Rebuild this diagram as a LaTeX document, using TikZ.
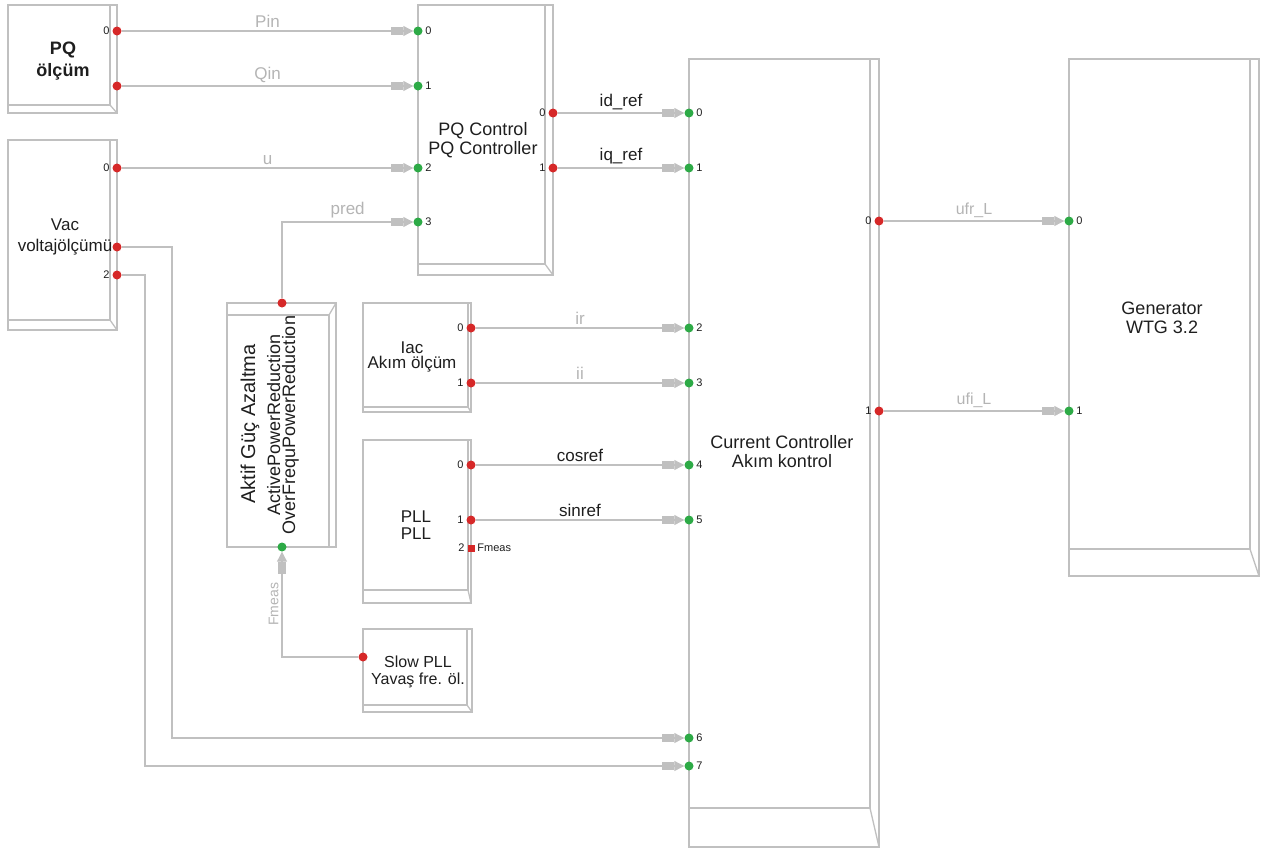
\documentclass[tikz,border=0pt]{standalone}
\usepackage{fontspec}
\setmainfont{Liberation Sans}
\usetikzlibrary{arrows.meta}

\definecolor{portred}{RGB}{214,40,40}
\definecolor{portgreen}{RGB}{45,170,70}
\definecolor{linegray}{RGB}{192,192,192}
\definecolor{labgray}{RGB}{180,180,180}
\definecolor{txt}{RGB}{30,30,30}

\tikzset{
  blockline/.style={draw=linegray, line width=1.3pt},
  feed/.style={draw=linegray, line width=1.1pt,
    -{Rectangle[length=12pt,width=8pt,sep=0pt]Triangle[length=10pt,width=10pt]}},
  outport/.style={circle, fill=portred, inner sep=0pt, minimum size=9pt},
  inport/.style={circle, fill=portgreen, inner sep=0pt, minimum size=9pt},
  plab/.style={font=\fontsize{11}{12}\selectfont, text=txt, inner sep=2.5pt},
  blabel/.style={font=\fontsize{18}{19}\selectfont, align=center, text=txt},
  wlab/.style={font=\fontsize{17}{18}\selectfont, text=labgray, above, inner sep=3pt},
  wlabk/.style={wlab, text=txt}
}

% block outline: x1 y1 x2 y2, right strip, bottom strip
\newcommand{\fblock}[6]{%
  \draw[blockline] (#1,#2) rectangle (#3,#4);
  \draw[blockline] ({#3-#5},#2) -- ({#3-#5},{#4-#6}) -- (#1,{#4-#6});
  \draw[blockline] ({#3-#5},{#4-#6}) -- (#3,#4);}

\begin{document}
\begin{tikzpicture}[x=1pt,y=-1pt]
  \useasboundingbox (0,0) rectangle (1261,854);

  % blocks
  \fblock{8}{5}{117}{113}{7}{8}
  \fblock{8}{140}{117}{330}{7}{10}
  \fblock{418}{5}{553}{275}{8}{11}
  \fblock{689}{59}{879}{847}{9}{39}
  \fblock{1069}{59}{1259}{576}{9}{27}
  \fblock{363}{303}{471}{412}{3}{5}
  \fblock{363}{440}{471}{603}{3}{13}
  \fblock{363}{629}{472}{712}{5}{7}
  \draw[blockline] (227,303) rectangle (336,547);
  \draw[blockline] (227,315) -- (329,315) -- (329,547);
  \draw[blockline] (329,315) -- (336,303);

  % block names
  \node[blabel,font=\bfseries\fontsize{18}{22}\selectfont] (pqmname) at (63,61) {PQ\\ölçüm};
  \node[blabel,font=\fontsize{17}{21}\selectfont] (vacname) at (65,237) {Vac\\voltajölçümü};
  \node[blabel] (pqcname) at (483,140) {PQ Control\\PQ Controller};
  \node[blabel] (ccname) at (782,452) {Current Controller\\Akım kontrol};
  \node[blabel] (genname) at (1162,318) {Generator\\WTG 3.2};
  \node[blabel,font=\fontsize{17}{15}\selectfont] (iacname) at (412,357) {Iac\\Akım ölçüm};
  \node[blabel,font=\fontsize{17}{17}\selectfont] (pllname) at (416,525) {PLL\\PLL};
  \node[blabel,font=\fontsize{16}{17}\selectfont] (spllname) at (418,672) {Slow PLL\\Yavaş fre. öl.};
  \node[blabel,font=\fontsize{20}{22}\selectfont,rotate=90] (aprname) at (250,424) {Aktif Güç Azaltma};
  \node[blabel,font=\fontsize{18}{15}\selectfont,rotate=90] (aprsub) at (283,425) {ActivePowerReduction\\OverFrequPowerReduction};

  % ports
  \node[outport,label={[plab]left:0}] (pqmo0) at (117,31) {};
  \node[outport] (pqmo1) at (117,86) {};
  \node[outport,label={[plab]left:0}] (vaco0) at (117,168) {};
  \node[outport] (vaco1) at (117,247) {};
  \node[outport,label={[plab]left:2}] (vaco2) at (117,275) {};
  \node[inport,label={[plab]right:0}] (pqci0) at (418,31) {};
  \node[inport,label={[plab]right:1}] (pqci1) at (418,86) {};
  \node[inport,label={[plab]right:2}] (pqci2) at (418,168) {};
  \node[inport,label={[plab]right:3}] (pqci3) at (418,222) {};
  \node[outport,label={[plab]left:0}] (pqco0) at (553,113) {};
  \node[outport,label={[plab]left:1}] (pqco1) at (553,168) {};
  \node[inport,label={[plab]right:0}] (cci0) at (689,113) {};
  \node[inport,label={[plab]right:1}] (cci1) at (689,168) {};
  \node[inport,label={[plab]right:2}] (cci2) at (689,328) {};
  \node[inport,label={[plab]right:3}] (cci3) at (689,383) {};
  \node[inport,label={[plab]right:4}] (cci4) at (689,465) {};
  \node[inport,label={[plab]right:5}] (cci5) at (689,520) {};
  \node[inport,label={[plab]right:6}] (cci6) at (689,738) {};
  \node[inport,label={[plab]right:7}] (cci7) at (689,766) {};
  \node[outport,label={[plab]left:0}] (cco0) at (879,221) {};
  \node[outport,label={[plab]left:1}] (cco1) at (879,411) {};
  \node[inport,label={[plab]right:0}] (geni0) at (1069,221) {};
  \node[inport,label={[plab]right:1}] (geni1) at (1069,411) {};
  \node[outport,label={[plab]left:0}] (iaco0) at (471,328) {};
  \node[outport,label={[plab]left:1}] (iaco1) at (471,383) {};
  \node[outport,label={[plab]left:0}] (pllo0) at (471,465) {};
  \node[outport,label={[plab]left:1}] (pllo1) at (471,520) {};
  \node[outport,rectangle,minimum size=7pt,label={[plab]left:2},
        label={[plab]right:Fmeas}] (pllo2) at (471,548) {};
  \node[outport] (apro) at (282,303) {};
  \node[inport] (apri) at (282,547) {};
  \node[outport] (spllo) at (363,657) {};

  % bends
  \coordinate (b6) at (172,738);
  \coordinate (b7) at (145,766);

  % wires
  \draw[feed] (pqmo0) -- node[wlab] (lpin) {Pin} (pqci0);
  \draw[feed] (pqmo1) -- node[wlab] (lqin) {Qin} (pqci1);
  \draw[feed] (vaco0) -- node[wlab] (lu) {u} (pqci2);
  \draw[feed] (apro) |- node[wlab,pos=0.75] (lpred) {pred} (pqci3);
  \draw[feed] (pqco0) -- node[wlabk] (lidref) {id\_ref} (cci0);
  \draw[feed] (pqco1) -- node[wlabk] (liqref) {iq\_ref} (cci1);
  \draw[feed] (iaco0) -- node[wlab] (lir) {ir} (cci2);
  \draw[feed] (iaco1) -- node[wlab] (lii) {ii} (cci3);
  \draw[feed] (pllo0) -- node[wlabk] (lcos) {cosref} (cci4);
  \draw[feed] (pllo1) -- node[wlabk] (lsin) {sinref} (cci5);
  \draw[feed] (cco0) -- node[wlab,font=\fontsize{16}{17}\selectfont] (lufr) {ufr\_L} (geni0);
  \draw[feed] (cco1) -- node[wlab,font=\fontsize{16}{17}\selectfont] (lufi) {ufi\_L} (geni1);
  \draw[feed] (spllo) -| node[wlab,sloped,pos=0.75,font=\fontsize{14}{15}\selectfont] (lfmeas) {Fmeas} (apri);
  \draw[feed] (vaco1) -| (b6) -- (cci6);
  \draw[feed] (vaco2) -| (b7) -- (cci7);
\end{tikzpicture}
\end{document}
